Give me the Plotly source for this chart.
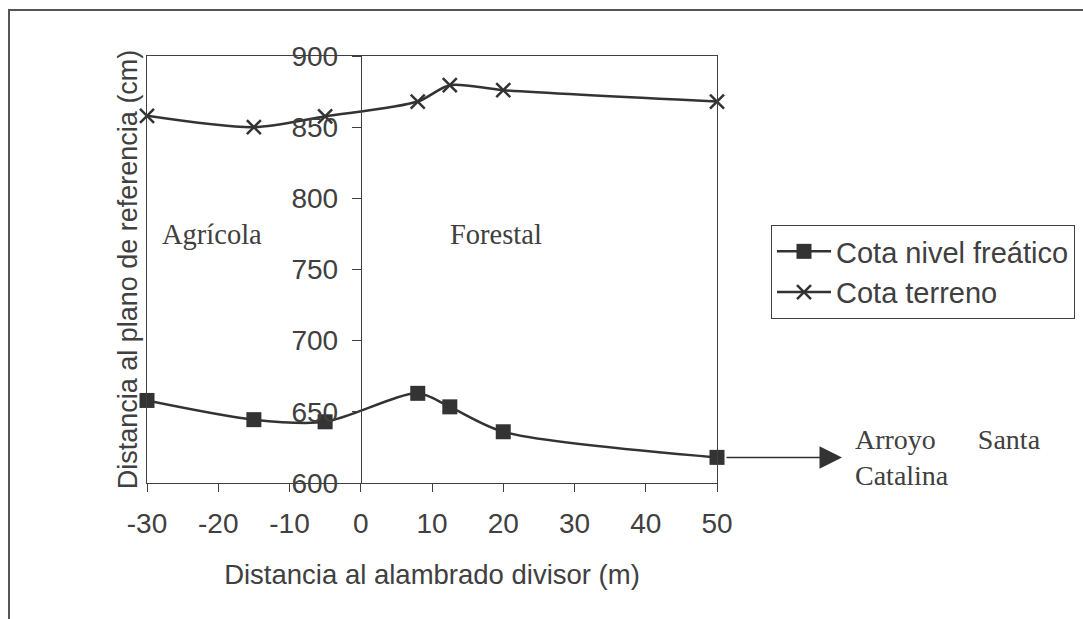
import plotly.graph_objects as go

# Data
dist_terreno = [-30, -15, -5, 8, 12.5, 20, 50]
cota_terreno = [858, 850, 857.5, 868, 879.5, 876, 868]
dist_freatico = [-30, -15, -5, 8, 12.5, 20, 50]
cota_freatico = [658, 644.5, 643, 663, 653.5, 636, 618]
x_ticks = [-30, -20, -10, 0, 10, 20, 30, 40, 50]
x_tick_labels = ["-30", "-20", "-10", "0", "10", "20", "30", "40", "50"]
y_ticks = [600, 650, 700, 750, 800, 850, 900]

INK = "#333333"
AX = "#404040"
SANS = "Liberation Sans, Arial, sans-serif"
SERIF = "Liberation Serif, Times New Roman, serif"

L, R, T, B = 147, 717, 56, 483
W, H = 1083, 619

def px_x(p):
    return (p - L) / (R - L)

def px_y(p):
    return (B - p) / (B - T)

fig = go.Figure()
fig.add_trace(go.Scatter(
    x=dist_freatico, y=cota_freatico, name="Cota nivel freático",
    mode="lines+markers", line=dict(color=INK, width=2.5, shape="spline", smoothing=0.8),
    marker=dict(symbol="square", size=15, color=INK), cliponaxis=False))
fig.add_trace(go.Scatter(
    x=dist_terreno, y=cota_terreno, name="Cota terreno",
    mode="lines+markers", line=dict(color=INK, width=2.5, shape="spline", smoothing=0.8),
    marker=dict(symbol="x-thin", size=14, color=INK, line=dict(color=INK, width=2.5)),
    cliponaxis=False))
# helper trace so the central value axis (y2) is drawn
fig.add_trace(go.Scatter(
    x=[dist_freatico[0]], y=[cota_freatico[0]], yaxis="y2", mode="markers",
    marker=dict(opacity=0), showlegend=False, hoverinfo="skip"))

fig.update_layout(
    width=W, height=H,
    margin=dict(l=L, r=W - R, t=T, b=H - B, autoexpand=False),
    paper_bgcolor="white", plot_bgcolor="white",
    font=dict(family=SANS, size=28, color=AX),
    showlegend=True,
    legend=dict(x=px_x(771), y=px_y(225), xanchor="left", yanchor="top",
                bordercolor=AX, borderwidth=1, bgcolor="white",
                font=dict(family=SANS, size=29, color=AX),
                itemwidth=54, tracegroupgap=0),
    xaxis=dict(range=[-30, 50], tickvals=x_ticks, ticktext=x_tick_labels,
               showgrid=False, zeroline=False,
               showline=True, linecolor=AX, linewidth=1, mirror=True,
               ticks="outside", ticklen=8, tickcolor=AX, ticklabelstandoff=7,
               tickfont=dict(family=SANS, size=28, color=AX),
               title=dict(text="Distancia al alambrado divisor (m)",
                          font=dict(family=SANS, size=27.5, color=AX), standoff=27)),
    yaxis=dict(range=[600, 900], showgrid=False, zeroline=False,
               showline=True, linecolor=AX, linewidth=1, mirror=True,
               showticklabels=False, ticks="",
               title=dict(text="Distancia al plano de referencia (cm)",
                          font=dict(family=SANS, size=27, color=AX), standoff=0)),
    yaxis2=dict(range=[600, 900], tickvals=y_ticks, overlaying="y", anchor="free",
                position=30 / 80, side="left", showgrid=False, zeroline=False,
                showline=True, linecolor=AX, linewidth=1,
                ticks="outside", ticklen=9, tickcolor=AX, ticklabelstandoff=8,
                tickfont=dict(family=SANS, size=28, color=AX)),
)

fig.add_annotation(x=px_x(160), y=px_y(234), xref="paper", yref="paper",
                   text="Agrícola", showarrow=False, xanchor="left", yanchor="middle",
                   font=dict(family=SERIF, size=28.5, color=AX))
fig.add_annotation(x=px_x(448), y=px_y(234), xref="paper", yref="paper",
                   text="Forestal", showarrow=False, xanchor="left", yanchor="middle",
                   font=dict(family=SERIF, size=28.5, color=AX))
fig.add_annotation(x=px_x(853), y=px_y(422), xref="paper", yref="paper",
                   text="Arroyo\u00a0\u00a0\u00a0\u00a0\u00a0 Santa<br>Catalina", showarrow=False,
                   xanchor="left", yanchor="top", align="left",
                   font=dict(family=SERIF, size=28, color=AX))
# arrow toward the creek
fig.add_annotation(x=px_x(842), y=(cota_freatico[-1] - 600) / 300, xref="paper", yref="paper",
                   text="", showarrow=True, ax=-117, ay=0, axref="pixel", ayref="pixel",
                   arrowhead=2, arrowsize=3, arrowwidth=1.5, arrowcolor=INK)

# outer chart border
fig.add_shape(type="rect", xref="paper", yref="paper",
              x0=px_x(9), y0=px_y(10), x1=px_x(1200), y1=px_y(700),
              line=dict(color="#555555", width=2), fillcolor="rgba(0,0,0,0)", layer="below")

fig.write_html("out.html")
